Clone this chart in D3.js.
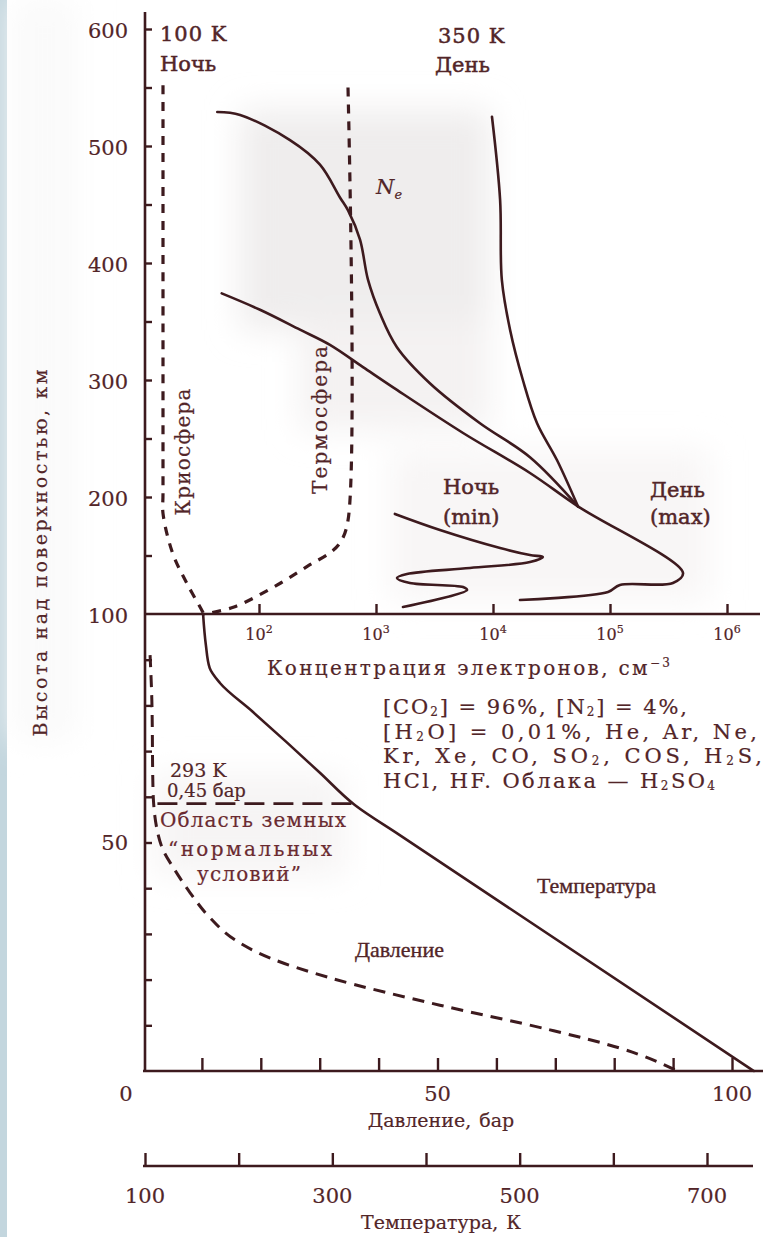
<!DOCTYPE html>
<html>
<head>
<meta charset="utf-8">
<script src="https://cdn.jsdelivr.net/npm/d3@7"></script>
<style>
  html, body { margin: 0; padding: 0; background: #ffffff; }
  svg { display: block; }
  text { font-family: "DejaVu Serif", "Liberation Serif", serif; fill: #522528;
         stroke: #522528; stroke-width: 0.2px; paint-order: stroke; }
  text.narrow { font-family: "Liberation Serif", "DejaVu Serif", serif; stroke-width: 0.35px; }
</style>
</head>
<body>
<svg id="chart" width="767" height="1237"></svg>
<script>
// ---- Axis ticks and labels ----
const altMajorUpper = [100, 200, 300, 400, 500, 600];
const altMinorUpper = [150, 200, 250, 300, 350, 400, 450, 500, 550, 600];
const altTicksLower = [10, 20, 30, 40, 50, 60, 70, 80, 90];
const altLabelsLower = [50];
const neTicks = [1e2, 1e3, 1e4, 1e5, 1e6];
const pressureTicks = [10, 20, 30, 40, 50, 60, 70, 80, 90, 100];
const pressureLabels = [0, 50, 100];
const tempTicks = [100, 200, 300, 400, 500, 600, 700];
const tempLabels = [100, 300, 500, 700];

// ---- Electron concentration profiles: [n, cm^-3 ; altitude, km] ----
const neDayUpper = [[44, 529], [69, 526.5], [184, 505], [332, 484], [492, 456], [577, 445],
  [730, 420], [855, 385.5], [1080, 357], [1510, 328], [2900, 297], [7740, 263],
  [20700, 234], [53200, 192]];
const neDayMax = [[48, 374], [102, 360], [224, 343], [404, 330], [774, 311], [1510, 291.5],
  [5550, 254.7], [20700, 220.5], [53200, 192], [421000, 135], [345000, 126.5],
  [121600, 124.8], [96200, 118.8], [17000, 112]];
const neDayRight = [[9800, 525], [11500, 454], [11900, 385.5], [14000, 342.7], [18000, 300],
  [23800, 263], [35200, 231.6], [53200, 192]];
const neNightMin = [[1450, 185.5], [3520, 171.8], [11500, 156.4], [20700, 150.4], [26700, 148.7],
  [20700, 144.4], [6350, 139.3], [1840, 134.2], [1510, 130.8], [1950, 126.5],
  [5550, 123], [6000, 120.5], [1700, 106]];

// ---- Upper atmosphere temperature: [T, K ; altitude, km] ----
const tempCryo = [[100, 552], [100, 203], [100, 186], [113, 152], [132, 126.5], [153, 102.6], [155, 100]];
const tempThermo = [[350, 550], [350, 180], [339, 160.7], [325, 152], [298, 141.9], [259, 126.5], [196, 106], [155, 100]];

// ---- Lower atmosphere: temperature [K, km] and pressure [bar, km] ----
const tempLower = [[162, 100], [165, 93.2], [169, 88.2], [180, 84.9], [215, 78.6], [252, 71.8],
  [287, 65.2], [324, 58.2], [372, 51.6], [750, 0]];
const pressLower = [[1.2, 91], [1.5, 81.2], [1.7, 61.5], [2.4, 52.7], [3.4, 48.4], [5.4, 44],
  [8.0, 39], [11.4, 33.5], [15.6, 28.7], [21.6, 24.7], [31.7, 20.4], [50.4, 14.4],
  [69.1, 9.0], [81, 5], [90.8, 0]];
// altitude of terrestrial "normal conditions", km
const normalAlt = [58.5];

const composition = [
  ["[CO", "2", "] = 96%, [N", "2", "] = 4%,"],
  ["[H", "2", "O] = 0,01%, He, Ar, Ne,"],
  ["Kr, Xe, CO, SO", "2", ", COS, H", "2", "S,"],
  ["HCl, HF. Облака — H", "2", "SO", "4"]
];
const compositionWidths = [304, 374, 379, 332];

const INK = "#3d1a1e";
const svg = d3.select("#chart");

// ---- Scales ----
const yUp = d3.scaleLinear().domain([100, 600]).range([614, 29]);
const yLo = d3.scaleLinear().domain([0, 100]).range([1071, 614]);
const xNe = d3.scaleLog().domain([10, 1e6]).range([142, 727]);
const xTup = d3.scaleLinear().domain([100, 350]).range([163, 348]);
const xP = d3.scaleLinear().domain([0, 100]).range([143, 732]);
const xT = d3.scaleLinear().domain([100, 700]).range([145, 707]);

// value of a profile at a given altitude (profiles are ordered by falling altitude)
function atAltitude(profile, alt) {
  for (let i = 1; i < profile.length; i++) {
    const [v0, a0] = profile[i - 1], [v1, a1] = profile[i];
    if (alt <= a0 && alt >= a1) return v0 + (v1 - v0) * (alt - a0) / (a1 - a0);
  }
  return profile[profile.length - 1][0];
}

// ---- Background: side strip and faint halftone patches ----
svg.append("rect").attr("x", 0).attr("y", 0).attr("width", 7).attr("height", 1237).attr("fill", "#c3d6de");
const defs = svg.append("defs");
defs.append("filter").attr("id", "soft").attr("x", "-40%").attr("y", "-40%").attr("width", "180%").attr("height", "180%")
  .append("feGaussianBlur").attr("stdDeviation", 16);
const patches = svg.append("g").attr("filter", "url(#soft)");
patches.append("rect").attr("x", 240).attr("y", 110).attr("width", 250).attr("height", 220).attr("fill", "#efeded");
patches.append("rect").attr("x", 300).attr("y", 320).attr("width", 190).attr("height", 110).attr("fill", "#f4f2f2");
patches.append("rect").attr("x", 390).attr("y", 450).attr("width", 320).attr("height", 150).attr("fill", "#f8f6f6");
patches.append("rect").attr("x", 155).attr("y", 775).attr("width", 190).attr("height", 100).attr("fill", "#f6f4f4");
patches.append("rect").attr("x", 12).attr("y", 0).attr("width", 66).attr("height", 740).attr("fill", "#fafafa");

// ---- Axes ----
function styleAxis(g) {
  g.select(".domain").remove();
  g.selectAll(".tick line").attr("stroke", INK).attr("stroke-width", 2.4);
}

// vertical axis line spanning both panels
svg.append("line").attr("x1", 145).attr("x2", 145).attr("y1", 12).attr("y2", yLo(0))
  .attr("stroke", INK).attr("stroke-width", 2.6);

// upper altitude ticks and labels
svg.append("g").attr("transform", "translate(145,0)")
  .call(d3.axisLeft(yUp).tickValues(altMinorUpper).tickSize(-7).tickFormat(""))
  .call(styleAxis);
svg.append("g").selectAll("text").data(altMajorUpper).join("text")
  .attr("x", 128).attr("y", d => yUp(d)).attr("dy", "0.42em")
  .attr("text-anchor", "end").style("font-size", "21px")
  .text(d => d);

// lower altitude ticks and labels
svg.append("g").attr("transform", "translate(145,0)")
  .call(d3.axisLeft(yLo).tickValues(altTicksLower).tickSize(-7).tickFormat(""))
  .call(styleAxis);
svg.append("g").selectAll("text").data(altLabelsLower).join("text")
  .attr("x", 128).attr("y", d => yLo(d)).attr("dy", "0.38em")
  .attr("text-anchor", "end").style("font-size", "21px")
  .text(d => d);

// electron concentration axis (log)
svg.append("line").attr("x1", 145).attr("x2", 760).attr("y1", yUp(100)).attr("y2", yUp(100))
  .attr("stroke", INK).attr("stroke-width", 2.6);
svg.append("g").attr("transform", `translate(0,${yUp(100)})`)
  .call(d3.axisTop(xNe).tickValues(neTicks).tickSize(10).tickFormat(""))
  .call(styleAxis);
const neLab = svg.append("g").selectAll("text").data(neTicks).join("text")
  .attr("x", d => xNe(d)).attr("y", yUp(100) + 26)
  .attr("text-anchor", "middle").style("font-size", "16px");
neLab.append("tspan").text("10");
neLab.append("tspan").attr("dy", -7).style("font-size", "11px").text(d => Math.round(Math.log10(d)));
svg.append("text").attr("x", 267).attr("y", 675)
  .style("font-size", "20px").attr("textLength", 403).attr("lengthAdjust", "spacing")
  .call(t => {
    t.append("tspan").text("Концентрация электронов, см");
    t.append("tspan").attr("dy", -8).style("font-size", "12px").text("−3");
  });

// pressure axis
const yPax = yLo(0);
svg.append("line").attr("x1", 143).attr("x2", 763).attr("y1", yPax).attr("y2", yPax)
  .attr("stroke", INK).attr("stroke-width", 2.6);
svg.append("g").attr("transform", `translate(0,${yPax})`)
  .call(d3.axisTop(xP).tickValues(pressureTicks).tickSize(13).tickFormat(""))
  .call(styleAxis);
svg.append("g").selectAll("text").data(pressureLabels).join("text")
  .attr("x", d => xP(d) + (d === 0 ? -17 : 0)).attr("y", yPax + 30)
  .attr("text-anchor", "middle").style("font-size", "21px")
  .text(d => d);
svg.append("text").attr("x", 441).attr("y", 1127).attr("text-anchor", "middle")
  .style("font-size", "19px").style("word-spacing", "2px").text("Давление, бар");

// temperature axis
const yTax = 1166;
svg.append("line").attr("x1", 143).attr("x2", 753).attr("y1", yTax).attr("y2", yTax)
  .attr("stroke", INK).attr("stroke-width", 2.6);
svg.append("g").attr("transform", `translate(0,${yTax})`)
  .call(d3.axisTop(xT).tickValues(tempTicks).tickSize(13).tickFormat(""))
  .call(styleAxis);
svg.append("g").selectAll("text").data(tempLabels).join("text")
  .attr("x", d => xT(d)).attr("y", yTax + 37)
  .attr("text-anchor", "middle").style("font-size", "21px")
  .text(d => d);
svg.append("text").attr("x", 441).attr("y", 1229).attr("text-anchor", "middle")
  .style("font-size", "19px").style("word-spacing", "2px").text("Температура, К");

// y axis title
svg.append("text").attr("transform", "translate(47,553) rotate(-90)")
  .attr("text-anchor", "middle").style("font-size", "19px")
  .attr("textLength", 367).attr("lengthAdjust", "spacing")
  .text("Высота над поверхностью, км");

// ---- Curves ----
const lineNe = d3.line().x(d => xNe(d[0])).y(d => yUp(d[1])).curve(d3.curveCatmullRom.alpha(0.5));
const lineTup = d3.line().x(d => xTup(d[0])).y(d => yUp(d[1])).curve(d3.curveCatmullRom.alpha(0.5));
const lineTlo = d3.line().x(d => xT(d[0])).y(d => yLo(d[1])).curve(d3.curveMonotoneY);
const lineP = d3.line().x(d => xP(d[0])).y(d => yLo(d[1])).curve(d3.curveMonotoneY);

const solid = (path) => path.attr("fill", "none").attr("stroke", INK).attr("stroke-width", 2.6)
  .attr("stroke-linecap", "round").attr("stroke-linejoin", "round");

[neDayUpper, neDayMax, neDayRight, neNightMin].forEach(s => solid(svg.append("path").attr("d", lineNe(s))));

[tempCryo, tempThermo].forEach(s => svg.append("path").attr("d", lineTup(s))
  .attr("fill", "none").attr("stroke", INK).attr("stroke-width", 3.2)
  .attr("stroke-dasharray", "9,8"));

solid(svg.append("path").attr("d", lineTlo(tempLower)));
svg.append("path").attr("d", lineP(pressLower))
  .attr("fill", "none").attr("stroke", INK).attr("stroke-width", 3)
  .attr("stroke-dasharray", "12,8");

// normal-conditions level, from the pressure curve to the temperature curve
svg.append("g").selectAll("line").data(normalAlt).join("line")
  .attr("x1", d => xP(atAltitude(pressLower, d)) + 3)
  .attr("x2", d => xT(atAltitude(tempLower, d)))
  .attr("y1", d => yLo(d)).attr("y2", d => yLo(d))
  .attr("stroke", INK).attr("stroke-width", 2.6).attr("stroke-dasharray", "20,9");

// ---- Annotations ----
const label = (x, y, txt, size = 21, anchor = "start") =>
  svg.append("text").attr("x", x).attr("y", y).attr("text-anchor", anchor)
    .style("font-size", size + "px").text(txt);

label(160, 41, "100 K").style("letter-spacing", "1px").style("stroke-width", "0.5px");
label(160, 71, "Ночь").style("stroke-width", "0.5px");
label(438, 43, "350 K").style("letter-spacing", "1px").style("stroke-width", "0.5px");
label(435, 72, "День").style("stroke-width", "0.5px");

label(443, 494, "Ночь").style("stroke-width", "0.5px");
label(443, 524, "(min)").style("stroke-width", "0.5px");
label(650, 497, "День").style("stroke-width", "0.5px");
label(650, 524, "(max)").style("stroke-width", "0.5px");

svg.append("text").attr("x", 376).attr("y", 194).style("font-size", "21px").style("font-style", "italic")
  .call(t => { t.append("tspan").text("N"); t.append("tspan").attr("dy", 5).style("font-size", "13px").text("e"); });

svg.append("text").attr("transform", "translate(190,452) rotate(-90)").attr("text-anchor", "middle")
  .style("font-size", "20px").attr("textLength", 127).attr("lengthAdjust", "spacing").text("Криосфера");
svg.append("text").attr("transform", "translate(327,420) rotate(-90)").attr("text-anchor", "middle")
  .style("font-size", "20px").attr("textLength", 148).attr("lengthAdjust", "spacing").text("Термосфера");

label(170, 777, "293 K", 19);
label(167, 797, "0,45 бар", 18);
label(160, 827, "Область земных", 20).attr("textLength", 186).attr("lengthAdjust", "spacing")
  .style("fill", "#6a2a30").style("stroke", "#6a2a30");
label(168, 856, "“нормальных", 20).attr("textLength", 164).attr("lengthAdjust", "spacing")
  .style("fill", "#6a2a30").style("stroke", "#6a2a30");
label(197, 881, "условий”", 20).attr("textLength", 104).attr("lengthAdjust", "spacing")
  .style("fill", "#6a2a30").style("stroke", "#6a2a30");

label(537, 893, "Температура", 22).attr("class", "narrow");
label(355, 957, "Давление", 22).attr("class", "narrow");

// composition block with chemical subscripts
const comp = svg.append("g");
composition.forEach((parts, i) => {
  const t = comp.append("text").attr("x", 383).attr("y", 714 + i * 24.7).style("font-size", "21px")
    .attr("textLength", compositionWidths[i]).attr("lengthAdjust", "spacing");
  parts.forEach((p, j) => {
    const sub = j % 2 === 1;
    t.append("tspan").attr("dy", j === 0 ? 0 : (sub ? 2 : -2))
      .style("font-size", sub ? "12px" : "21px").text(p);
  });
});
</script>
</body>
</html>
